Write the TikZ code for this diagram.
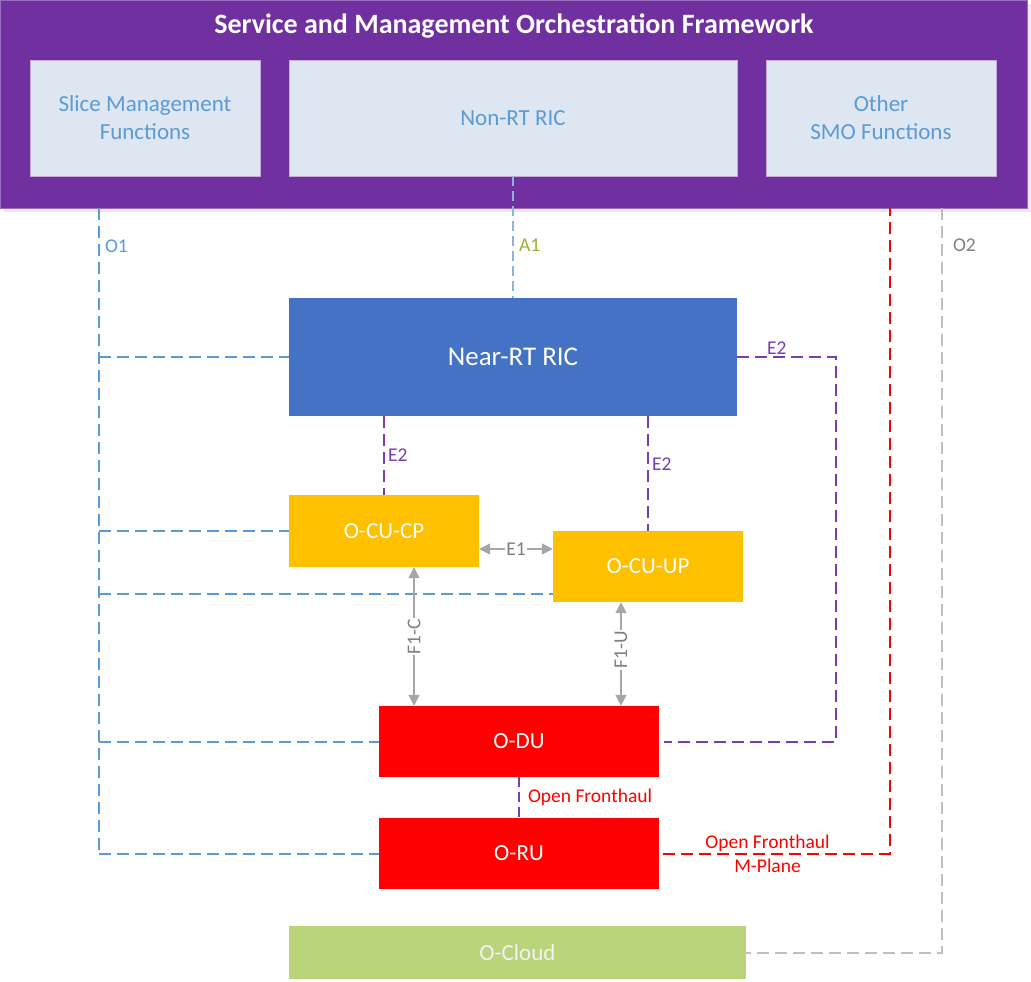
\documentclass[tikz,border=0pt]{standalone}
\usepackage{fontspec}
\setmainfont{Carlito}
\usetikzlibrary{arrows.meta,calc,shadows}
\definecolor{smopurple}{HTML}{7030A0}
\definecolor{smofill}{HTML}{DEE6F2}
\definecolor{smotext}{HTML}{5B9BD5}
\definecolor{ricblue}{HTML}{4472C4}
\definecolor{cuyellow}{HTML}{FFC000}
\definecolor{cloudgreen}{HTML}{BAD47B}
\definecolor{oneblue}{HTML}{5B9BD5}
\definecolor{aoneline}{HTML}{8EB4D3}
\definecolor{aonetext}{HTML}{9BAF2E}
\definecolor{etwo}{HTML}{7A3DB0}
\definecolor{ifgray}{HTML}{A6A6A6}
\definecolor{iftext}{HTML}{7F7F7F}
\definecolor{otwo}{HTML}{BFBFBF}

\begin{document}
\begin{tikzpicture}[x=1pt,y=-1pt,
  box/.style={rectangle,inner sep=0pt,align=center},
  smobox/.style={box,fill=smofill,draw=smopurple!40,line width=0.6pt,text=smotext,
    minimum height=116pt,font=\fontsize{23}{28}\selectfont},
  ranbox/.style={box,text=white,font=\fontsize{23}{28}\selectfont},
  lbl/.style={inner sep=5pt,font=\fontsize{19.5}{23}\selectfont},
  dashline/.style={line width=2pt,dash pattern=on 12pt off 6pt},
  gray arrow/.style={ifgray,line width=1.6pt,{Triangle[length=11pt,width=11pt]}-{Triangle[length=11pt,width=11pt]}}]

\useasboundingbox (0,0) rectangle (1031,982);

% SMO framework
\node[box,fill=smopurple,draw=smopurple!70,minimum width=1027pt,minimum height=208pt,
  drop shadow={shadow xshift=4pt,shadow yshift=-4pt,fill=smopurple!12,opacity=1}]
  (smo) at (513.5,104) {};
\node[text=white,font=\fontsize{28}{34}\selectfont\bfseries] (smotitle) at (514,26)
  {Service and Management Orchestration Framework};
\node[smobox,minimum width=230pt] (slice) at (145,118) {Slice Management\\Functions};
\node[smobox,minimum width=448pt] (nonrt) at (513,118) {Non-RT RIC};
\node[smobox,minimum width=230pt] (other) at (881,118) {Other\\SMO Functions};

% RAN nodes
\node[ranbox,fill=ricblue,minimum width=448pt,minimum height=118pt,
  font=\fontsize{27}{32}\selectfont] (nearrt) at (513,357) {Near-RT RIC};
\node[ranbox,fill=cuyellow,minimum width=190pt,minimum height=72pt] (cucp) at (384,531) {O-CU-CP};
\node[ranbox,fill=cuyellow,minimum width=190pt,minimum height=71pt] (cuup) at (648,566.5) {O-CU-UP};
\node[ranbox,fill=red,minimum width=280pt,minimum height=71pt] (du) at (519,741.5) {O-DU};
\node[ranbox,fill=red,minimum width=280pt,minimum height=71pt] (ru) at (519,853.5) {O-RU};
\node[ranbox,fill=cloudgreen,text=white!95!black,minimum width=457pt,minimum height=53pt] (cloud) at (517.5,952.5) {O-Cloud};

\coordinate (o1) at (99,208);
\coordinate (mp) at (890,208);
\coordinate (o2) at (942,208);
\coordinate (cuupin) at (553,594);

% O1
\draw[dashline,oneblue] (o1) -- node[lbl,right,pos=0.06,text=oneblue] {O1} (o1 |- ru);
\draw[dashline,oneblue] (o1 |- nearrt) -- (nearrt.west);
\draw[dashline,oneblue] (o1 |- cucp) -- (cucp.west);
\draw[dashline,oneblue] (o1 |- cuupin) -- (cuupin);
\draw[dashline,oneblue] (o1 |- du) -- (du.west);
\draw[dashline,oneblue] (o1 |- ru) -- (ru.west);

% A1
\draw[aoneline,line width=2pt,dash pattern=on 10pt off 5pt] (nonrt.south) --
  node[lbl,right,pos=0.57,text=aonetext] {A1} (nearrt.north);

% E2
\draw[dashline,etwo] (nearrt.south -| cucp.north) -- node[lbl,right,inner sep=3pt,text=etwo] {E2} (cucp.north);
\draw[dashline,etwo] (nearrt.south -| cuup.north) -- node[lbl,right,inner sep=3pt,pos=0.42,text=etwo] {E2} (cuup.north);
\draw[dashline,etwo] (nearrt.east) -- node[lbl,above,inner sep=2pt,pos=0.4,text=etwo] {E2} ++(99,0) |- ($(du.east)+(5,0)$);

% E1, F1
\draw[gray arrow] ($(cucp.east)+(0,18)$) -- node[lbl,fill=white,inner sep=1pt,text=iftext] {E1} ($(cuup.west)+(0,-17.5)$);
\draw[gray arrow] ($(cucp.south)+(30,0)$) -- node[lbl,fill=white,inner sep=1pt,rotate=90,text=iftext] {F1-C} ($(du.north)+(-105,0)$);
\draw[gray arrow] ($(cuup.south)+(-27,0)$) -- node[lbl,fill=white,inner sep=1pt,rotate=90,pos=0.46,text=iftext] {F1-U} ($(du.north)+(102,0)$);

% Open Fronthaul
\draw[etwo,line width=2pt,dash pattern=on 10pt off 5pt] (du.south) -- node[lbl,right,inner sep=8pt,text=red] {Open Fronthaul} (ru.north);
\draw[dashline,red] ($(ru.east)+(4,0)$) -- node[lbl,pos=0.46,inner sep=1pt,align=center,text=red,
  font=\fontsize{19.5}{24}\selectfont] {Open Fronthaul\\M-Plane} (ru -| mp) -- (mp);

% O2
\draw[dashline,otwo] (o2) -- node[lbl,right,pos=0.05,inner sep=10pt,text=iftext] {O2} (o2 |- cloud) -- (cloud.east);

\end{tikzpicture}
\end{document}
